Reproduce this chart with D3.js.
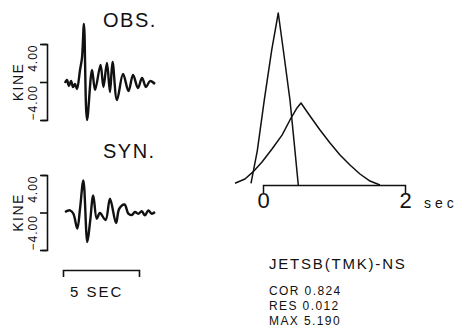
<!DOCTYPE html>
<html>
<head>
<meta charset="utf-8">
<script src="https://cdn.jsdelivr.net/npm/d3@7"></script>
<style>
  body { margin: 0; background: #fff; }
  svg { display: block; }
  text { font-family: "Liberation Sans", Arial, sans-serif; fill: #111; }
</style>
</head>
<body>
<div id="chart"></div>
<script>
var width = 463, height = 330;

// observed velocity trace: time (s) and amplitude (kine)
var obsTime = [0.13, 0.26, 0.39, 0.53, 0.66, 0.79, 0.92, 1.12, 1.25, 1.38, 1.58, 1.91, 2.11, 2.47, 2.66, 2.89, 3.09, 3.26, 3.55, 3.95, 4.31, 4.61, 4.93, 5.20, 5.46, 5.72, 6.05];
var obsAmp  = [-0.1, 0.21, -0.42, 0.1, -0.53, -0.21, -0.74, 1.26, 2.53, 6.1, -4.0, 1.26, -0.84, 1.79, -0.53, 2.0, -1.05, 2.1, -1.9, 0.84, -0.95, 0.74, -0.63, 0.42, -0.53, 0.1, -0.21];

// synthetic velocity trace
var synTime = [0.13, 0.46, 0.68, 0.94, 1.12, 1.34, 1.60, 1.78, 1.99, 2.22, 2.43, 2.80, 3.09, 3.49, 3.70, 4.05, 4.30, 4.52, 4.74, 4.95, 5.18, 5.39, 5.61, 5.84, 6.05];
var synAmp  = [0.05, 0.23, -0.13, -1.72, 0.4, 3.43, -3.14, -1.01, 1.83, -0.66, -0.05, -0.8, 1.47, -1.12, 0.4, 0.85, -0.13, -0.27, 0.05, -0.13, 0.13, -0.3, 0.23, -0.13, 0.05];

// source time functions (normalised amplitude)
var stf1Time = [-0.169, -0.08, 0.018, 0.123, 0.215, 0.286, 0.38, 0.45, 0.497];
var stf1Amp  = [0.01, 0.2, 0.494, 0.785, 1.0, 0.785, 0.494, 0.2, 0.0];
var stf2Time = [-0.394, -0.254, -0.141, -0.014, 0.127, 0.268, 0.38, 0.479, 0.535, 0.662, 0.803, 0.944, 1.085, 1.225, 1.366, 1.507, 1.648];
var stf2Amp  = [0.01, 0.035, 0.076, 0.134, 0.209, 0.29, 0.378, 0.448, 0.477, 0.401, 0.32, 0.244, 0.174, 0.116, 0.064, 0.023, 0.0];

var kineTicks = [-4, 0, 4];
var secTicks = [0, 2];
var stationLabel = "JETSB(TMK)-NS";
var statNames = ["COR", "RES", "MAX"];
var statValues = ["0.824", "0.012", "5.190"];

var svg = d3.select('#chart')
    .append('svg')
    .attr('width', width)
    .attr('height', height);

// time scale shared by both traces (5 sec bar)
var xw = d3.scaleLinear().domain([0, 5]).range([63, 139]);

function zip(ts, as) {
    return ts.map(function (t, i) { return { t: t, a: as[i] }; });
}

function drawPanel(title, titleY, ts, as, y) {
    var line = d3.line()
        .x(function (d) { return xw(d.t); })
        .y(function (d) { return y(d.a); })
        .curve(d3.curveCatmullRom.alpha(0.5));

    svg.append('path')
        .datum(zip(ts, as))
        .attr('d', line)
        .attr('fill', 'none')
        .attr('stroke', '#111')
        .attr('stroke-width', 2.4)
        .attr('stroke-linejoin', 'round');

    // kine bracket
    var ax = svg.append('g')
        .attr('transform', 'translate(47,0)')
        .call(d3.axisLeft(y)
            .tickValues(kineTicks)
            .tickSize(7)
            .tickSizeOuter(5)
            .tickFormat(function (d) { return d === 0 ? '' : d3.format('.2f')(d); }));
    ax.select('.domain').attr('stroke', '#111').attr('stroke-width', 1.6);
    ax.selectAll('.tick line').attr('stroke', '#111').attr('stroke-width', 1.6);
    ax.selectAll('.tick text')
        .attr('x', 0)
        .attr('dy', 0)
        .attr('transform', 'translate(-10,0) rotate(-90)')
        .attr('text-anchor', function (d) { return d > 0 ? 'end' : 'start'; })
        .style('font-family', '"Liberation Sans", Arial, sans-serif')
        .style('font-size', '12px')
        .style('letter-spacing', '1px')
        .attr('fill', '#111');

    svg.append('text')
        .attr('transform', 'translate(23,' + y(0) + ') rotate(-90)')
        .attr('text-anchor', 'middle')
        .style('font-size', '14px')
        .style('letter-spacing', '1.5px')
        .text('KINE');

    svg.append('text')
        .attr('x', 103)
        .attr('y', titleY)
        .style('font-size', '20px')
        .style('letter-spacing', '1.5px')
        .text(title);
}

var yObs = d3.scaleLinear().domain([-4, 4]).range([120, 44]);
var ySyn = d3.scaleLinear().domain([-4, 4]).range([250, 175]);

drawPanel('OBS.', 27, obsTime, obsAmp, yObs);
drawPanel('SYN.', 158, synTime, synAmp, ySyn);

// 5 sec scale bar
var bar = svg.append('g')
    .attr('transform', 'translate(0,270)')
    .call(d3.axisBottom(xw).tickValues([]).tickSizeOuter(7));
bar.select('.domain').attr('stroke', '#111').attr('stroke-width', 1.6);

svg.append('text')
    .attr('x', 70)
    .attr('y', 297)
    .style('font-size', '15px')
    .style('letter-spacing', '2px')
    .text('5 SEC');

// source time functions
var xs = d3.scaleLinear().domain([0, 2]).range([263, 405]);
var ys = d3.scaleLinear().domain([0, 1]).range([185, 13]);

var stfLine = d3.line()
    .x(function (d) { return xs(d.t); })
    .y(function (d) { return ys(d.a); });

[zip(stf1Time, stf1Amp), zip(stf2Time, stf2Amp)].forEach(function (pts) {
    svg.append('path')
        .datum(pts)
        .attr('d', stfLine)
        .attr('fill', 'none')
        .attr('stroke', '#111')
        .attr('stroke-width', 1.5)
        .attr('stroke-linejoin', 'round');
});

var sa = svg.append('g')
    .attr('transform', 'translate(0,' + ys(0) + ')')
    .call(d3.axisBottom(xs)
        .tickValues(secTicks)
        .tickSize(0)
        .tickSizeOuter(8)
        .tickPadding(7)
        .tickFormat(d3.format('d')));
sa.select('.domain').attr('stroke', '#111').attr('stroke-width', 1.5);
sa.selectAll('.tick text')
    .style('font-family', '"Liberation Sans", Arial, sans-serif')
    .style('font-size', '22px')
    .attr('fill', '#111');

svg.append('text')
    .attr('x', xs(2) + 19)
    .attr('y', 208)
    .style('font-size', '14px')
    .style('letter-spacing', '4px')
    .text('sec');

// station label and fit statistics
svg.append('text')
    .attr('x', 269)
    .attr('y', 269)
    .style('font-size', '15px')
    .style('letter-spacing', '1.8px')
    .text(stationLabel);

svg.selectAll('.stat')
    .data(statNames)
    .enter().append('text')
    .attr('class', 'stat')
    .attr('x', 269)
    .attr('y', function (d, i) { return 295 + i * 15; })
    .style('font-size', '12px')
    .style('letter-spacing', '1.4px')
    .text(function (d, i) { return d + ' ' + statValues[i]; });
</script>
</body>
</html>
